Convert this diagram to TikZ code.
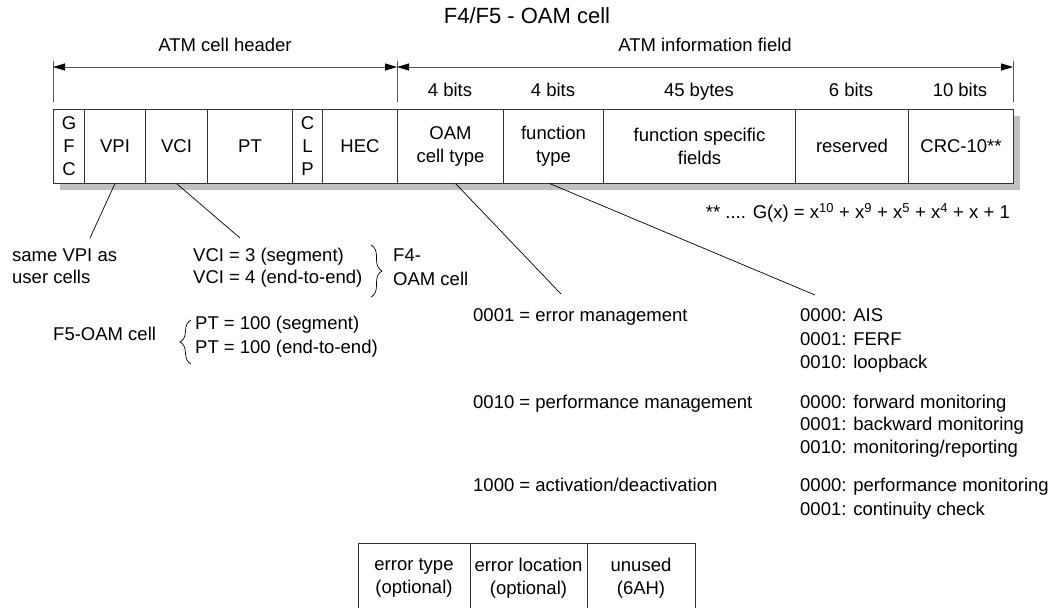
\documentclass[tikz,border=0pt]{standalone}
\usepackage{fontspec}
\setmainfont{Liberation Sans}
\usetikzlibrary{arrows.meta,decorations.pathreplacing}
\definecolor{linecol}{HTML}{333333}
\definecolor{dimcol}{HTML}{555555}
\definecolor{shadowcol}{HTML}{C0C0C0}
\begin{document}
\begin{tikzpicture}[x=1pt,y=-1pt,
  every node/.style={font=\fontsize{18.5}{23}\selectfont, inner sep=0pt, text=black},
  cell/.style={draw=linecol, fill=white, line width=1pt, minimum height=74pt,
    anchor=west, align=center},
  lbl/.style={text height=0.72em, text depth=0pt},
  lleft/.style={lbl, anchor=west},
  dimarrow/.style={{Triangle[length=12pt,width=7pt,color=black]}-{Triangle[length=12pt,width=7pt,color=black]},
    draw=dimcol, line width=0.9pt},
  tick/.style={draw=dimcol, line width=0.9pt},
  conn/.style={draw=black, line width=0.7pt},
  cbrace/.style={draw=black, line width=0.7pt, decorate,
    decoration={brace, amplitude=11pt}},
  frame/.style={draw=linecol, line width=1pt}]
\useasboundingbox (0,0) rectangle (1053,608);

% title and field captions
\node[lbl, font=\fontsize{22}{26}\selectfont] (title) at (527,20) {F4/F5 - OAM cell};
\node[lbl] (hdr) at (225,48) {ATM cell header};
\node[lbl] (info) at (705,48) {ATM information field};

% dimension lines
\coordinate (hl) at (53,67);
\coordinate (hm) at (397,67);
\coordinate (hr) at (1013,67);
\coordinate (tla) at (53,61);  \coordinate (tlb) at (53,102);
\coordinate (tma) at (397,61); \coordinate (tmb) at (397,102);
\coordinate (tra) at (1013,61); \coordinate (trb) at (1013,102);
\draw[tick] (tla) -- (tlb);
\draw[tick] (tma) -- (tmb);
\draw[tick] (tra) -- (trb);
\draw[dimarrow] (hl) -- (hm);
\draw[dimarrow] (hm) -- (hr);

% field widths
\node[lbl] (b1) at (450,93) {4 bits};
\node[lbl] (b2) at (553,93) {4 bits};
\node[lbl] (b3) at (699,93) {45 bytes};
\node[lbl] (b4) at (851,93) {6 bits};
\node[lbl] (b5) at (960,93) {10 bits};

% drop shadow of the cell row
\fill[shadowcol] (60,116) rectangle (1020,190);

% the cell row
\node[cell, minimum width=31pt]  (gfc) at (53,146)  {G\\F\\[0.5pt]C};
\node[cell, minimum width=61pt]  (vpi) at (84,146)  {VPI};
\node[cell, minimum width=62pt]  (vci) at (145,146) {VCI};
\node[cell, minimum width=85pt]  (pt)  at (207,146) {PT};
\node[cell, minimum width=30pt]  (clp) at (292,146) {C\\L\\[0.5pt]P};
\node[cell, minimum width=75pt]  (hec) at (322,146) {HEC};
\node[cell, minimum width=106pt] (oam) at (397,146) {OAM\\cell type};
\node[cell, minimum width=100pt] (fty) at (503,146) {function\\type};
\node[cell, minimum width=192pt] (fsf) at (603,146) {function specific\\fields};
\node[cell, minimum width=113pt] (res) at (795,146) {reserved};
\node[cell, minimum width=105pt] (crc) at (908,146) {CRC-10**};

% generator polynomial
\node[lbl, anchor=east] (poly) at (1010,215)
  {** .... G(x) = x\textsuperscript{10} + x\textsuperscript{9} + x\textsuperscript{5} + x\textsuperscript{4} + x + 1};

% VPI / VCI / PT notes
\node[lleft] (vpia) at (12,258) {same VPI as};
\node[lleft] (vpib) at (12,280) {user cells};
\node[lleft] (vcia) at (193,258) {VCI = 3 (segment)};
\node[lleft] (vcib) at (193,280) {VCI = 4 (end-to-end)};
\node[lleft] (f4a) at (393,258) {F4-};
\node[lleft] (f4b) at (393,282) {OAM cell};
\node[lleft] (f5) at (53,337) {F5-OAM cell};
\node[lleft] (pta) at (195,326) {PT = 100 (segment)};
\node[lleft] (ptb) at (195,350) {PT = 100 (end-to-end)};

\coordinate (f4top) at (371,245);
\coordinate (f4bot) at (371,297);
\coordinate (f5top) at (191,320);
\coordinate (f5bot) at (191,364);
\draw[cbrace] (f4top) -- (f4bot);
\draw[cbrace] (f5bot) -- (f5top);

\coordinate (vpiend) at (90,238);
\coordinate (vciend) at (240,238);
\draw[conn] (vpi.south) -- (vpiend);
\draw[conn] (vci.south) -- (vciend);

% OAM cell types and function types
\node[lleft] (em) at (473,318) {0001 = error management};
\node[lleft] (pm) at (473,405) {0010 = performance management};
\node[lleft] (ad) at (473,488) {1000 = activation/deactivation};

\node[lleft] (ais)  at (800,318) {0000: AIS};
\node[lleft] (ferf) at (800,342) {0001: FERF};
\node[lleft] (loop) at (800,365) {0010: loopback};
\node[lleft] (fwd)  at (800,405) {0000: forward monitoring};
\node[lleft] (bwd)  at (800,427) {0001: backward monitoring};
\node[lleft] (mon)  at (800,450) {0010: monitoring/reporting};
\node[lleft] (perf) at (800,488) {0000: performance monitoring};
\node[lleft] (cont) at (800,512) {0001: continuity check};

\coordinate (oamend) at (561,294);
\coordinate (ftyend) at (815,295);
\draw[conn] ([xshift=5pt]oam.south) -- (oamend);
\draw[conn] ([xshift=-4pt]fty.south) -- (ftyend);

% error management fields
\draw[frame] (358,612) -- (358,543) -- (695,543) -- (695,612);
\draw[frame] (470,543) -- (470,612);
\draw[frame] (587,543) -- (587,612);
\node[align=center] (etype) at (414,578) {error type\\(optional)};
\node[align=center] (eloc) at (528.5,578) {error location\\(optional)};
\node[align=center] (unused) at (641,578) {unused\\(6AH)};
\end{tikzpicture}
\end{document}
